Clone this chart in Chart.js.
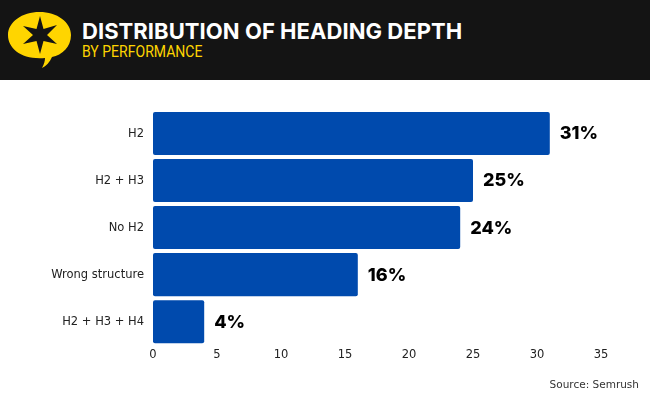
<!DOCTYPE html>
<html>
<head>
<meta charset="utf-8">
<script src="https://cdn.jsdelivr.net/npm/chart.js@4"></script>
<style>
  html, body { margin: 0; padding: 0; background: #fff; }
  #wrap { position: relative; width: 650px; height: 400px; overflow: hidden; }
  #myChart { position: absolute; left: 0; top: 0; }
  #head { position: absolute; left: 0; top: 0; width: 650px; height: 80px; background: #141414; }
  #head svg { position: absolute; left: 8px; top: 11px; }
  #title { position: absolute; left: 82px; top: 17px; color: #fff; white-space: nowrap;
    font: 700 22px "Inter", sans-serif; letter-spacing: 0.05px; line-height: 28px; }
  #sub { position: absolute; left: 82px; top: 42px; color: #ffd500; white-space: nowrap;
    font: 400 16.5px "Roboto", sans-serif; line-height: 20px;
    transform: scaleX(0.85); transform-origin: left center; }
  #src { position: absolute; right: 11px; top: 376px; color: #333; white-space: nowrap;
    font: 400 10.5px "DejaVu Sans", sans-serif; line-height: 16px; }
</style>
</head>
<body>
<div id="wrap">
  <canvas id="myChart" width="650" height="400"></canvas>
  <div id="head">
    <svg width="66" height="60" viewBox="0 0 66 60">
      <path d="M31.5 1 C49 1 63 11 63 24 C63 36 54 44 44 46 C42 51 38 55 34 57 C36 53 37 50 37 47 C14 49 0 38 0 24 C0 11 14 1 31.5 1 Z" fill="#ffd500"/>
      <path d="M32 5 L35.5 18 L49 14 L39 24 L49 33 L35.5 30 L32 43 L28.5 30 L15 33 L25 24 L15 15 L28.5 18 Z" fill="#141414"/>
    </svg>
    <div id="title">DISTRIBUTION OF HEADING DEPTH</div>
    <div id="sub">BY PERFORMANCE</div>
  </div>
  <div id="src">Source: Semrush</div>
</div>
<script>
const categories = ["H2", "H2 + H3", "No H2", "Wrong structure", "H2 + H3 + H4"];
const share_values = [31, 25, 24, 16, 4];
const x_ticks = [0, 5, 10, 15, 20, 25, 30, 35];

// percent labels next to the bars
const bar_labels = {
  id: "bar_labels",
  afterDatasetsDraw(chart) {
    const c = chart.ctx;
    const meta = chart.getDatasetMeta(0);
    c.save();
    c.font = '800 18px "Inter", sans-serif';
    c.fillStyle = "#000";
    c.textAlign = "left";
    c.textBaseline = "middle";
    meta.data.forEach((bar, i) => {
      c.fillText(share_values[i] + "%", bar.x + 10, bar.y + 0.5);
    });
    c.restore();
  },
};

const chart_ = new Chart(document.getElementById("myChart"), {
  type: "bar",
  plugins: [bar_labels],
  data: {
    labels: categories,
    datasets: [
      {
        data: share_values,
        backgroundColor: "#004aad",
        borderRadius: 2,
        borderSkipped: false,
        categoryPercentage: 1,
        barPercentage: 0.915,
      },
    ],
  },
  options: {
    indexAxis: "y",
    responsive: false,
    animation: false,
    layout: { padding: { left: 0, top: 110, right: 49, bottom: 35 } },
    plugins: { legend: { display: false }, tooltip: { enabled: false } },
    scales: {
      x: {
        type: "linear",
        min: 0,
        max: 35,
        afterBuildTicks: (axis) => {
          axis.ticks = x_ticks.map((v) => ({ value: v }));
        },
        grid: { display: false, drawTicks: false },
        border: { display: false },
        ticks: { color: "#222", font: { family: "DejaVu Sans", size: 11.5 }, padding: 3, maxRotation: 0 },
      },
      y: {
        afterFit: (axis) => {
          axis.width = 153;
        },
        grid: { display: false, drawTicks: false },
        border: { display: false },
        ticks: { color: "#222", font: { family: "DejaVu Sans", size: 11.5 }, padding: 9 },
      },
    },
  },
});
</script>
</body>
</html>
